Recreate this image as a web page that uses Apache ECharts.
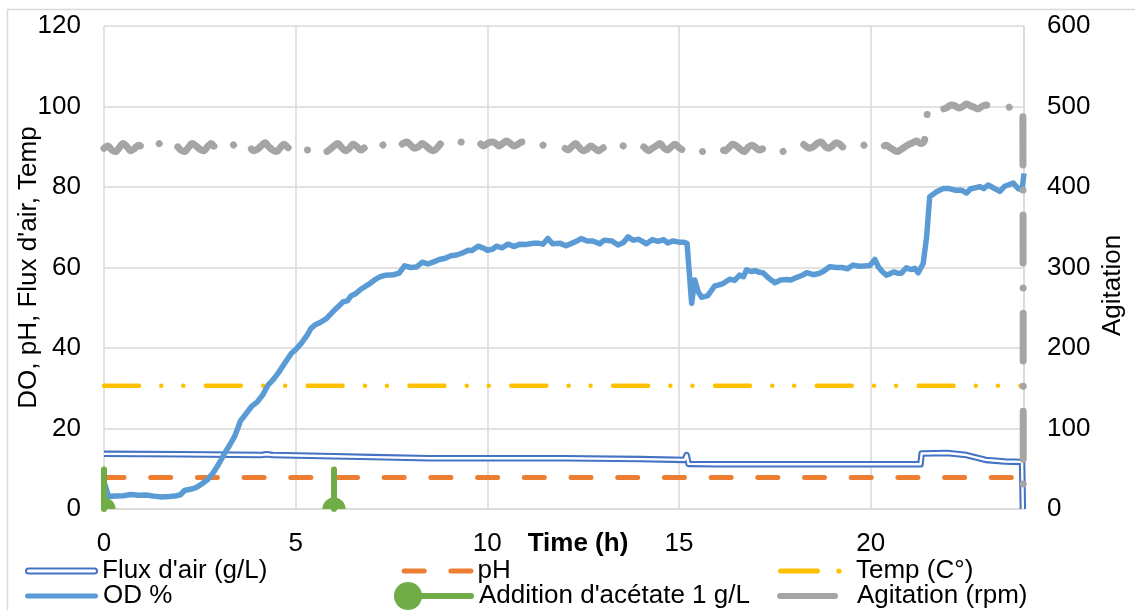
<!DOCTYPE html>
<html>
<head>
<meta charset="utf-8">
<script src="https://cdn.jsdelivr.net/npm/echarts/dist/echarts.min.js"></script>
<style>
  html, body { margin: 0; padding: 0; background: #ffffff; }
  #chart { width: 1135px; height: 610px; }
</style>
</head>
<body>
<div id="chart"></div>
<script>
// ---- Fermentation run: process variables over time (h) ----

// Dissolved oxygen (%)
const odPercent = [
  [0.02, 6.2], [0.12, 3.1], [0.3, 3.2], [0.5, 3.3], [0.7, 3.6], [0.9, 3.4], [1.1, 3.5], [1.3, 3.2],
  [1.5, 3.0], [1.7, 3.1], [1.9, 3.3], [2.0, 3.6], [2.1, 4.6], [2.25, 4.9], [2.4, 5.3], [2.55, 6.2],
  [2.7, 7.3], [2.85, 9.0], [3.0, 11.3], [3.15, 13.9], [3.3, 16.2], [3.42, 18.3], [3.5, 20.3], [3.56, 21.9],
  [3.7, 23.6], [3.85, 25.5], [4.0, 26.6], [4.15, 28.5], [4.28, 30.8], [4.4, 32.0], [4.54, 33.7], [4.7, 36.0],
  [4.89, 38.7], [5.0, 39.6], [5.15, 41.2], [5.3, 43.2], [5.4, 44.9], [5.5, 45.7], [5.65, 46.4], [5.8, 47.3],
  [6.0, 49.3], [6.1, 50.2], [6.24, 51.5], [6.35, 51.7], [6.45, 53.0], [6.55, 53.4], [6.7, 54.6], [6.9, 55.8],
  [7.06, 56.9], [7.2, 57.7], [7.35, 58.1], [7.55, 58.2], [7.7, 58.6], [7.84, 60.4], [8.0, 60.0], [8.15, 60.1],
  [8.3, 61.3], [8.45, 60.9], [8.6, 61.4], [8.75, 62.0], [8.9, 62.3], [9.05, 62.9], [9.2, 63.1], [9.35, 63.6],
  [9.5, 64.3], [9.6, 64.2], [9.76, 65.3], [9.9, 64.8], [10.0, 64.3], [10.15, 64.6], [10.24, 65.3], [10.38, 64.9],
  [10.54, 65.8], [10.7, 65.2], [10.85, 65.8], [11.0, 65.7], [11.19, 66.0], [11.35, 66.0], [11.45, 65.8], [11.58, 67.2],
  [11.7, 65.9], [11.9, 66.0], [12.05, 65.4], [12.2, 66.0], [12.32, 66.5], [12.45, 67.2], [12.6, 66.6], [12.75, 66.6],
  [12.93, 65.9], [13.05, 66.8], [13.25, 66.6], [13.41, 65.6], [13.55, 66.2], [13.67, 67.6], [13.8, 66.8], [13.95, 67.0],
  [14.15, 65.9], [14.3, 66.9], [14.45, 66.5], [14.6, 66.9], [14.71, 66.1], [14.85, 66.6], [15.0, 66.3], [15.11, 66.3],
  [15.21, 66.0], [15.33, 51.1], [15.41, 56.9], [15.5, 54.0], [15.59, 52.6], [15.75, 53.0], [15.93, 55.4], [16.05, 55.7],
  [16.15, 56.0], [16.32, 57.1], [16.45, 56.8], [16.58, 58.1], [16.68, 57.7], [16.76, 59.4], [16.88, 59.0], [16.98, 59.2],
  [17.1, 58.8], [17.19, 58.7], [17.35, 57.3], [17.5, 56.2], [17.65, 56.9], [17.8, 57.0], [17.92, 56.9], [18.06, 57.5],
  [18.2, 58.0], [18.33, 58.7], [18.5, 58.2], [18.65, 58.5], [18.76, 59.0], [18.93, 60.2], [19.1, 60.0], [19.25, 60.0],
  [19.4, 59.7], [19.54, 60.6], [19.7, 60.3], [19.85, 60.4], [19.98, 60.5], [20.11, 62.0], [20.2, 60.2], [20.3, 59.0],
  [20.41, 58.1], [20.5, 58.4], [20.6, 58.9], [20.7, 58.6], [20.8, 58.6], [20.93, 59.9], [21.05, 59.5], [21.15, 59.8],
  [21.24, 58.7], [21.37, 61.0], [21.46, 67.6], [21.54, 77.6], [21.72, 78.8], [21.89, 79.6], [22.05, 79.6], [22.2, 79.2],
  [22.37, 79.2], [22.5, 78.5], [22.6, 79.5], [22.85, 80.1], [22.95, 79.6], [23.06, 80.5], [23.2, 79.8], [23.37, 78.9],
  [23.5, 80.2], [23.72, 81.0], [23.85, 79.6], [23.95, 79.3], [24.0, 83.4]
];

// Air flow (g/L)
const fluxAir = [
  [0, 13.7], [2, 13.6], [4.1, 13.4], [4.25, 13.6], [4.4, 13.4], [6, 13.1], [7, 12.9], [8.5, 12.6],
  [10, 12.6], [12, 12.6], [14, 12.4], [15.15, 12.2], [15.2, 13.4], [15.25, 11.2], [16, 11.1], [21.3, 11.1],
  [21.33, 13.8], [22, 13.9], [22.5, 13.4], [23, 12.2], [23.5, 11.8], [23.95, 11.7], [23.97, 0]
];

// pH and temperature (°C)
const phLevel = [[0, 7.8], [23.8, 7.8]];
const tempLevel = [[0, 30.6], [24, 30.6]];

// Acetate additions (1 g/L each): time (h) and drawn spike height
const acetateTimes = [0, 6];
const acetateSpike = [9.8, 9.8];

// Agitation (rpm), logged every 0.1 h from t = 0
const agitationStep = 0.1;
const agitationRpm = [
  448, 451, 446, 444, 449, 454, 450, 445, 448, 452,
  449, 444, 447, 453, 455, 450, 446, 449, 454, 451,
  446, 444, 449, 454, 451, 447, 445, 450, 454, 449,
  446, 448, 452, 456, 451, 446, 449, 454, 450, 445,
  447, 451, 455, 450, 446, 444, 449, 453, 449, 446,
  450, 454, 451, 446, 448, 452, 454, 449, 444, 447,
  451, 454, 449, 445, 448, 453, 450, 446, 449, 454,
  451, 446, 449, 453, 456, 451, 447, 450, 454, 456,
  452, 448, 450, 454, 451, 447, 445, 449, 454, 451,
  447, 450, 454, 456, 452, 449, 446, 451, 454, 451,
  454, 456, 455, 451, 454, 457, 454, 451, 453, 456,
  454, 451, 455, 457, 454, 451, 453, 456, 454, 451,
  449, 446, 450, 454, 449, 445, 447, 451, 448, 445,
  448, 451, 454, 450, 446, 449, 453, 450, 446, 449,
  452, 449, 445, 448, 451, 454, 449, 446, 450, 453,
  449, 446, 444, 447, 451, 448, 444, 447, 451, 449,
  451, 448, 445, 449, 453, 451, 447, 444, 449, 452,
  449, 446, 448, 451, 454, 450, 446, 444, 448, 450,
  447, 451, 454, 451, 448, 450, 454, 456, 451, 448,
  451, 455, 453, 449, 451, 454, 452, 448, 451, 454,
  451, 447, 445, 449, 452, 449, 446, 444, 447, 450,
  453, 455, 457, 454, 457,
  498, 502, 503, 500, 497, 499, 502, 501, 498, 500,
  503, 501, 499, 497, 500, 502, 500, 498, 501, 503,
  500, 499, 501, 500, 502
];
// Stirrer stop at the end of the run
const agitationStop = [[23.97, 498], [23.98, 0]];

// Axis ticks
const xTicks = { min: 0, max: 24, interval: 5 };
const yLeftTicks = { min: 0, max: 120, interval: 20 };
const yRightTicks = { min: 0, max: 600, interval: 100 };

// ---- build series ----
const FONT = '"Liberation Sans", Arial, sans-serif';
const COLORS = {
  flux: '#4472C4', ph: '#ED7D31', temp: '#FFC000',
  od: '#5B9BD5', acetate: '#70AD47', agit: '#A5A5A5', grid: '#D9D9D9'
};

const agitationData = agitationRpm
  .map((v, i) => [+(i * agitationStep).toFixed(2), v])
  .concat(agitationStop);

// marker at the base of each acetate spike: a dome sitting on the time axis
const DOME = 'path://M0,10 A10,10 0 0 1 20,10 Z';
const QUARTER = 'path://M0,10 L0,0 A10,10 0 0 1 10,10 Z';
const acetateSeries = acetateTimes.map((t, i) => ({
  name: "Addition d'acétate 1 g/L",
  type: 'line',
  data: [
    {
      value: [t, 0],
      symbol: t === xTicks.min ? QUARTER : DOME,
      symbolSize: t === xTicks.min ? [11.5, 11.5] : [23, 11.5],
      symbolOffset: t === xTicks.min ? ['50%', '-50%'] : [0, '-50%']
    },
    { value: [t, acetateSpike[i]], symbol: 'none' }
  ],
  showSymbol: true,
  itemStyle: { color: COLORS.acetate },
  lineStyle: { color: COLORS.acetate, width: 6, cap: 'round' },
  z: 6
}));

const option = {
  animation: false,
  backgroundColor: '#ffffff',
  textStyle: { fontFamily: FONT },
  grid: { left: 104, right: 111, top: 26, bottom: 101, containLabel: false, outerBoundsMode: 'none' },
  xAxis: {
    type: 'value',
    min: xTicks.min, max: xTicks.max, interval: xTicks.interval,
    name: 'Time (h)',
    nameLocation: 'middle',
    nameGap: 22,
    nameMoveOverlap: false,
    nameTextStyle: { fontFamily: FONT, fontSize: 26, fontWeight: 'bold', color: '#000', padding: [0, 0, 0, 28], verticalAlign: 'top' },
    axisLine: { show: true, lineStyle: { color: COLORS.grid, width: 1.5 } },
    axisTick: { show: false },
    axisLabel: { fontFamily: FONT, fontSize: 26, color: '#000', margin: 22, showMaxLabel: false },
    splitLine: { show: true, lineStyle: { color: COLORS.grid, width: 1.5 } }
  },
  yAxis: [
    {
      type: 'value',
      position: 'left',
      min: yLeftTicks.min, max: yLeftTicks.max, interval: yLeftTicks.interval,
      name: "DO, pH, Flux d'air, Temp",
      nameLocation: 'middle',
      nameRotate: 90,
      nameGap: 62,
      nameMoveOverlap: false,
      nameTextStyle: { fontFamily: FONT, fontSize: 26, color: '#000' },
      axisLine: { show: false },
      axisTick: { show: false },
      axisLabel: { fontFamily: FONT, fontSize: 26, color: '#000', margin: 23 },
      splitLine: { show: true, lineStyle: { color: COLORS.grid, width: 1.5 } }
    },
    {
      type: 'value',
      position: 'right',
      min: yRightTicks.min, max: yRightTicks.max, interval: yRightTicks.interval,
      name: 'Agitation',
      nameLocation: 'middle',
      nameRotate: 90,
      nameGap: 76,
      nameMoveOverlap: false,
      nameTextStyle: { fontFamily: FONT, fontSize: 26, color: '#000', padding: [0, 36, 0, 0] },
      axisLine: { show: true, lineStyle: { color: COLORS.grid, width: 1.5 } },
      axisTick: { show: false },
      axisLabel: { fontFamily: FONT, fontSize: 26, color: '#000', margin: 23 },
      splitLine: { show: false }
    }
  ],
  series: [
    {
      name: "Flux d'air (g/L)", type: 'line', data: fluxAir, symbol: 'none',
      lineStyle: { color: COLORS.flux, width: 6.5, join: 'round' }, z: 2
    },
    {
      name: "Flux d'air (g/L) core", type: 'line', data: fluxAir, symbol: 'none',
      lineStyle: { color: '#ffffff', width: 2.4, join: 'round' }, z: 2
    },
    {
      name: 'pH', type: 'line', data: phLevel, symbol: 'none',
      lineStyle: { color: COLORS.ph, width: 5, type: [20, 26.7], cap: 'round' }, z: 3
    },
    {
      name: 'Temp (C°)', type: 'line', data: tempLevel, symbol: 'none',
      lineStyle: { color: COLORS.temp, width: 4.5, type: [35, 22.3, 0.01, 22, 0.01, 22.5], cap: 'round' }, z: 3
    },
    {
      name: 'OD %', type: 'line', data: odPercent, symbol: 'none',
      lineStyle: { color: COLORS.od, width: 5.5, join: 'round' }, z: 4
    },
    ...acetateSeries,
    {
      name: 'Agitation (rpm)', type: 'line', yAxisIndex: 1, data: agitationData, symbol: 'none',
      smooth: 0.35,
      lineStyle: { color: COLORS.agit, width: 7, type: [48, 25, 0.01, 25], cap: 'round', join: 'round' }, z: 7
    }
  ],
  graphic: [
    // chart area frame
    { type: 'rect', silent: true, z: -10, shape: { x: 7.5, y: 9.5, width: 1300, height: 800 },
      style: { fill: 'none', stroke: COLORS.grid, lineWidth: 1.5 } },
    // legend row 1
    { type: 'line', shape: { x1: 28.5, y1: 571, x2: 94.5, y2: 571 }, style: { stroke: COLORS.flux, lineWidth: 7, lineCap: 'round' } },
    { type: 'line', shape: { x1: 28.5, y1: 571, x2: 94.5, y2: 571 }, style: { stroke: '#ffffff', lineWidth: 3, lineCap: 'round' } },
    { type: 'text', x: 102, y: 571, style: { text: "Flux d'air (g/L)", font: '26px ' + FONT, fill: '#000', verticalAlign: 'middle' } },
    { type: 'line', shape: { x1: 404.2, y1: 571, x2: 471, y2: 571 }, style: { stroke: COLORS.ph, lineWidth: 5, lineCap: 'round', lineDash: [20, 26.7] } },
    { type: 'text', x: 477.5, y: 571, style: { text: 'pH', font: '26px ' + FONT, fill: '#000', verticalAlign: 'middle' } },
    { type: 'line', shape: { x1: 780.5, y1: 571, x2: 817.5, y2: 571 }, style: { stroke: COLORS.temp, lineWidth: 5, lineCap: 'round' } },
    { type: 'circle', shape: { cx: 839, cy: 571, r: 2.6 }, style: { fill: COLORS.temp } },
    { type: 'text', x: 856, y: 571, style: { text: 'Temp (C°)', font: '26px ' + FONT, fill: '#000', verticalAlign: 'middle' } },
    // legend row 2
    { type: 'line', shape: { x1: 27.5, y1: 596, x2: 95.5, y2: 596 }, style: { stroke: COLORS.od, lineWidth: 5, lineCap: 'round' } },
    { type: 'text', x: 103, y: 596, style: { text: 'OD %', font: '26px ' + FONT, fill: '#000', verticalAlign: 'middle' } },
    { type: 'line', shape: { x1: 408, y1: 596, x2: 471, y2: 596 }, style: { stroke: COLORS.acetate, lineWidth: 6, lineCap: 'round' } },
    { type: 'circle', shape: { cx: 408, cy: 596, r: 14 }, style: { fill: COLORS.acetate } },
    { type: 'text', x: 479, y: 596, style: { text: "Addition d'acétate 1 g/L", font: '26px ' + FONT, fill: '#000', verticalAlign: 'middle' } },
    { type: 'line', shape: { x1: 780, y1: 596, x2: 835, y2: 596 }, style: { stroke: COLORS.agit, lineWidth: 6, lineCap: 'round' } },
    { type: 'text', x: 857, y: 596, style: { text: 'Agitation (rpm)', font: '26px ' + FONT, fill: '#000', verticalAlign: 'middle' } }
  ]
};

const chart = echarts.init(document.getElementById('chart'), null, { renderer: 'canvas' });
chart.setOption(option);
</script>
</body>
</html>
